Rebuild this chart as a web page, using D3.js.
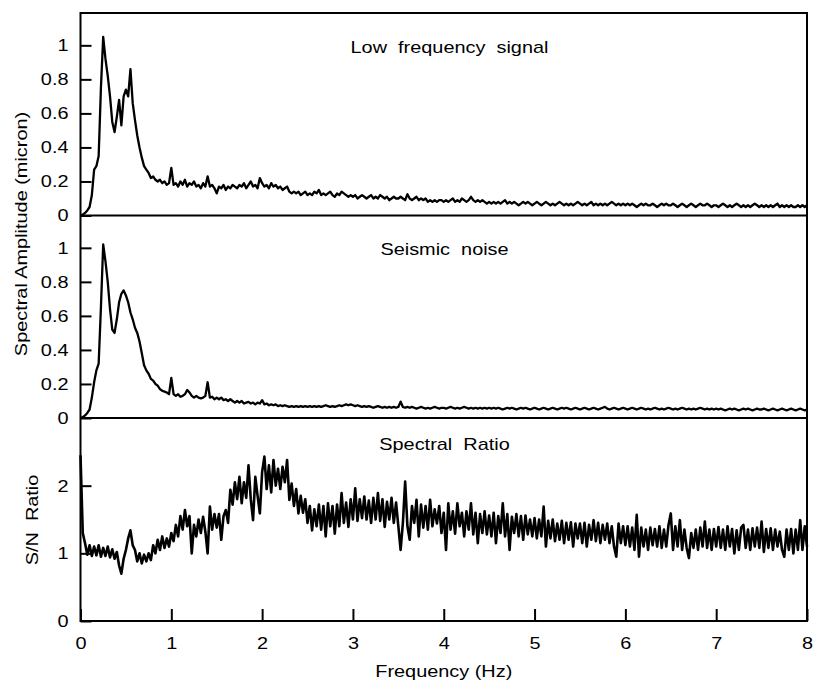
<!DOCTYPE html>
<html><head><meta charset="utf-8">
<script src="https://cdn.jsdelivr.net/npm/d3@7"></script>
<style>
body{margin:0;background:#fff}
svg{display:block}
text{font-family:"Liberation Sans",Arial,Helvetica,sans-serif;font-size:17px;fill:#000}
</style>
</head><body>
<svg id="chart" width="813" height="682"></svg>
<script>
// ---- data ----
const freqStep = 0.025; // Hz between samples, 0..8 Hz
const signalAmp = [
0.00,0.005,0.015,0.03,0.05,0.12,0.27,0.29,0.35,0.75,1.05,0.92,0.82,0.70,0.55,0.49,0.58,0.68,0.53,0.70,
0.74,0.70,0.86,0.66,0.56,0.47,0.40,0.34,0.29,0.27,0.25,0.22,0.23,0.21,0.20,0.21,0.19,0.20,0.18,0.19,
0.28,0.18,0.19,0.17,0.20,0.18,0.21,0.17,0.19,0.18,0.20,0.17,0.18,0.16,0.19,0.17,0.23,0.17,0.18,0.16,
0.13,0.17,0.16,0.18,0.15,0.17,0.16,0.18,0.17,0.16,0.18,0.17,0.19,0.16,0.18,0.20,0.17,0.18,0.16,0.22,
0.19,0.17,0.18,0.16,0.19,0.17,0.18,0.16,0.17,0.15,0.16,0.17,0.14,0.13,0.14,0.13,0.14,0.12,0.13,0.14,
0.12,0.13,0.12,0.14,0.13,0.15,0.12,0.13,0.12,0.13,0.14,0.12,0.11,0.13,0.12,0.14,0.13,0.12,0.11,0.12,
0.11,0.12,0.10,0.11,0.12,0.11,0.10,0.11,0.12,0.10,0.11,0.10,0.12,0.11,0.10,0.11,0.09,0.10,0.11,0.10,
0.10,0.11,0.10,0.09,0.125,0.10,0.09,0.10,0.11,0.09,0.10,0.09,0.10,0.08,0.09,0.08,0.09,0.08,0.09,0.09,
0.08,0.09,0.08,0.09,0.10,0.08,0.09,0.08,0.10,0.09,0.08,0.09,0.11,0.09,0.08,0.09,0.08,0.09,0.08,0.07,
0.08,0.07,0.08,0.07,0.08,0.07,0.08,0.09,0.07,0.08,0.07,0.08,0.07,0.06,0.07,0.08,0.07,0.08,0.07,0.06,
0.07,0.08,0.07,0.06,0.07,0.08,0.07,0.06,0.07,0.06,0.07,0.08,0.07,0.06,0.07,0.06,0.07,0.06,0.07,0.08,
0.07,0.06,0.07,0.06,0.07,0.08,0.06,0.07,0.06,0.07,0.06,0.07,0.06,0.07,0.08,0.07,0.06,0.07,0.06,0.07,
0.06,0.07,0.06,0.07,0.06,0.05,0.06,0.07,0.06,0.07,0.06,0.06,0.07,0.06,0.05,0.06,0.07,0.06,0.07,0.06,
0.06,0.07,0.06,0.05,0.06,0.07,0.06,0.05,0.06,0.07,0.06,0.05,0.06,0.07,0.06,0.06,0.07,0.06,0.05,0.06,
0.06,0.05,0.06,0.07,0.06,0.05,0.06,0.05,0.06,0.07,0.06,0.05,0.06,0.05,0.06,0.05,0.06,0.07,0.06,0.05,
0.06,0.05,0.06,0.05,0.06,0.05,0.06,0.07,0.05,0.06,0.05,0.06,0.05,0.06,0.05,0.05,0.06,0.05,0.06,0.05,
0.06
];
const noiseAmp = [
0.00,0.005,0.015,0.03,0.05,0.12,0.21,0.28,0.32,0.65,1.02,0.92,0.80,0.64,0.52,0.50,0.58,0.68,0.73,0.75,
0.72,0.68,0.62,0.58,0.53,0.50,0.45,0.38,0.31,0.28,0.26,0.23,0.22,0.20,0.19,0.17,0.16,0.155,0.15,0.14,
0.235,0.14,0.13,0.14,0.125,0.13,0.14,0.165,0.15,0.13,0.12,0.13,0.12,0.115,0.12,0.13,0.21,0.12,0.125,0.11,
0.12,0.11,0.12,0.105,0.11,0.10,0.11,0.10,0.09,0.10,0.09,0.10,0.085,0.09,0.095,0.085,0.09,0.08,0.09,0.085,
0.105,0.08,0.085,0.075,0.08,0.075,0.08,0.07,0.075,0.07,0.075,0.07,0.065,0.07,0.065,0.07,0.065,0.07,0.065,0.07,
0.065,0.07,0.065,0.07,0.065,0.07,0.065,0.07,0.075,0.07,0.065,0.07,0.065,0.07,0.075,0.07,0.075,0.08,0.075,0.08,
0.075,0.07,0.075,0.07,0.065,0.07,0.065,0.07,0.065,0.06,0.065,0.07,0.065,0.06,0.065,0.06,0.065,0.06,0.065,0.06,
0.065,0.096,0.065,0.06,0.065,0.06,0.065,0.06,0.055,0.06,0.065,0.06,0.055,0.06,0.055,0.06,0.065,0.06,0.055,0.06,
0.06,0.055,0.06,0.065,0.06,0.055,0.06,0.055,0.06,0.065,0.06,0.055,0.06,0.055,0.06,0.055,0.06,0.055,0.06,0.055,
0.06,0.055,0.06,0.055,0.06,0.055,0.05,0.055,0.06,0.055,0.06,0.055,0.05,0.055,0.06,0.055,0.06,0.055,0.05,0.055,
0.06,0.055,0.05,0.055,0.06,0.055,0.05,0.055,0.06,0.055,0.05,0.055,0.06,0.055,0.06,0.055,0.05,0.055,0.06,0.055,
0.05,0.055,0.06,0.055,0.05,0.055,0.06,0.055,0.05,0.055,0.06,0.065,0.055,0.05,0.055,0.06,0.055,0.05,0.055,0.06,
0.055,0.05,0.055,0.06,0.055,0.05,0.055,0.06,0.055,0.05,0.055,0.05,0.055,0.06,0.055,0.05,0.055,0.05,0.055,0.06,
0.055,0.05,0.055,0.05,0.055,0.06,0.055,0.05,0.055,0.05,0.055,0.05,0.055,0.06,0.055,0.05,0.055,0.05,0.055,0.05,
0.055,0.05,0.055,0.05,0.045,0.05,0.055,0.05,0.055,0.05,0.045,0.05,0.055,0.05,0.055,0.05,0.045,0.05,0.055,0.05,
0.05,0.055,0.05,0.045,0.05,0.055,0.05,0.045,0.05,0.055,0.05,0.045,0.05,0.055,0.05,0.045,0.05,0.055,0.05,0.045,
0.05
];
const snRatio = [
2.45,1.30,1.15,0.98,1.12,0.96,1.10,0.97,1.12,0.95,1.08,0.96,1.10,0.94,1.06,0.92,1.02,0.82,0.70,0.92,
1.05,1.22,1.34,1.12,1.05,0.88,1.00,0.85,0.98,0.88,1.00,0.90,1.12,1.00,1.20,1.05,1.25,1.08,1.22,1.10,
1.30,1.18,1.42,1.25,1.55,1.35,1.64,1.40,1.55,1.00,1.42,1.25,1.50,1.30,1.54,1.32,1.00,1.69,1.35,1.58,
1.38,1.58,1.20,1.55,1.64,1.45,1.94,1.72,2.05,1.80,2.13,1.74,2.05,1.82,2.30,1.80,1.49,2.13,1.85,1.59,
2.20,2.43,1.95,2.30,1.90,2.38,2.00,2.25,1.95,2.28,2.05,2.38,1.79,2.03,1.70,1.95,1.59,1.85,1.60,1.80,
1.45,1.70,1.34,1.65,1.40,1.72,1.35,1.70,1.25,1.74,1.40,1.70,1.29,1.72,1.40,1.89,1.45,1.75,1.39,1.80,
1.50,1.96,1.48,1.80,1.52,1.84,1.50,1.78,1.45,1.82,1.50,1.89,1.48,1.80,1.39,1.76,1.50,1.82,1.45,1.75,
1.40,1.05,1.45,2.06,1.40,1.20,1.70,1.45,1.79,1.25,1.72,1.38,1.70,1.35,1.79,1.40,1.65,1.44,1.70,1.30,
1.60,1.05,1.74,1.35,1.62,1.29,1.74,1.40,1.60,1.25,1.62,1.35,1.74,1.28,1.60,1.15,1.58,1.30,1.62,1.28,
1.56,1.25,1.60,1.15,1.55,1.30,1.74,1.25,1.58,1.05,1.54,1.30,1.58,1.25,1.55,1.20,1.56,1.28,1.50,1.25,
1.52,1.22,1.50,1.25,1.69,1.10,1.48,1.22,1.50,1.18,1.44,1.20,1.48,1.15,1.45,1.20,1.46,1.10,1.44,1.22,
1.44,1.15,1.45,1.10,1.42,1.20,1.49,1.18,1.45,1.15,1.42,1.20,1.44,1.15,1.40,1.10,0.95,1.44,1.15,1.40,
1.12,1.40,1.10,1.38,1.05,1.57,0.95,1.38,1.10,1.35,1.05,1.38,1.12,1.36,1.10,1.40,1.08,1.35,1.10,1.42,
1.59,1.05,1.40,1.10,1.49,1.05,1.35,1.08,0.93,1.30,1.08,1.35,1.05,1.38,1.10,1.47,1.08,1.35,1.05,1.36,
1.10,1.39,1.08,1.35,1.05,1.40,1.10,1.36,1.00,1.34,1.05,1.38,1.42,1.08,1.35,1.05,1.37,1.10,1.38,1.08,
1.47,1.02,1.36,1.08,1.37,1.05,1.35,1.10,1.32,1.05,0.95,1.35,1.05,1.36,1.00,1.35,1.05,1.49,1.05,1.40,
1.10
];
const frequencies = signalAmp.map((_, i) => +(i * freqStep).toFixed(3));
const freqTicks = [0, 1, 2, 3, 4, 5, 6, 7, 8];
const freqTickLabels = ["0", "1", "2", "3", "4", "5", "6", "7", "8"];
const ampTicks = [0, 0.2, 0.4, 0.6, 0.8, 1];
const ampTickLabels = ["0", "0.2", "0.4", "0.6", "0.8", "1"];
const ratioTicks = [0, 1, 2];
const ratioTickLabels = ["0", "1", "2"];
const panelTitles = ["Low  frequency  signal", "Seismic  noise", "Spectral  Ratio"];
const xTitle = "Frequency (Hz)";
const yTitleAmp = "Spectral Amplitude (micron)";
const yTitleRatio = "S/N  Ratio";

// ---- layout ----
const SX = 1.17; // horizontal text stretch
const L = 80.5, R = 807;
const panels = [
  {vals: signalAmp, domain: [0, 1.19], ticks: ampTicks, labels: ampTickLabels, top: 13, bottom: 215.5, title: panelTitles[0], tx: 449.5, ty: 52.5, sw: 2.3},
  {vals: noiseAmp, domain: [0, 1.19], ticks: ampTicks, labels: ampTickLabels, top: 215.5, bottom: 418, title: panelTitles[1], tx: 444.5, ty: 255, sw: 2.3},
  {vals: snRatio, domain: [0, 3], ticks: ratioTicks, labels: ratioTickLabels, top: 418, bottom: 621, title: panelTitles[2], tx: 444.5, ty: 450, sw: 2.6}
];

const svg = d3.select("#chart");
const x = d3.scaleLinear().domain([0, 8]).range([L, R]);

panels.forEach(p => {
  const y = d3.scaleLinear().domain(p.domain).range([p.bottom, p.top]);
  const ax = svg.append("g")
    .attr("transform", `translate(${L},0)`)
    .call(d3.axisLeft(y).tickValues(p.ticks).tickFormat((d, i) => p.labels[i])
      .tickSizeInner(-11).tickSizeOuter(0).tickPadding(12));
  ax.select(".domain").remove();
  ax.selectAll(".tick line").attr("stroke", "#000").attr("stroke-width", 2);
  ax.selectAll(".tick text")
    .attr("x", -12 / SX)
    .attr("transform", `scale(${SX},1)`);
  ax.attr("font-size", null).attr("font-family", null);

  const line = d3.line()
    .x((d, i) => x(frequencies[i]))
    .y(d => y(d));
  svg.append("path")
    .datum(p.vals)
    .attr("d", line)
    .attr("fill", "none")
    .attr("stroke", "#000")
    .attr("stroke-width", p.sw)
    .attr("stroke-linejoin", "round");

  svg.append("text")
    .attr("transform", `translate(${p.tx},${p.ty}) scale(${SX},1)`)
    .attr("text-anchor", "middle")
    .style("white-space", "pre")
    .text(p.title);
});

// x axis on bottom panel
const xa = svg.append("g")
  .attr("transform", `translate(0,621)`)
  .call(d3.axisBottom(x).tickValues(freqTicks).tickFormat((d, i) => freqTickLabels[i])
    .tickSizeInner(-12).tickSizeOuter(0));
xa.select(".domain").remove();
xa.selectAll(".tick line").attr("stroke", "#000").attr("stroke-width", 2);
xa.selectAll(".tick text").attr("y", 28.5).attr("dy", null)
  .attr("transform", `scale(${SX},1)`);
xa.attr("font-size", null).attr("font-family", null);

// frame and panel separators
svg.append("rect")
  .attr("x", L).attr("y", 13).attr("width", R - L).attr("height", 621 - 13)
  .attr("fill", "none").attr("stroke", "#000").attr("stroke-width", 2);
[215.5, 418].forEach(yy => {
  svg.append("line").attr("x1", L).attr("x2", R).attr("y1", yy).attr("y2", yy)
    .attr("stroke", "#000").attr("stroke-width", 2);
});

// axis titles
svg.append("text")
  .attr("transform", `translate(443.75,677) scale(${SX},1)`)
  .attr("text-anchor", "middle").text(xTitle);
svg.append("text")
  .attr("transform", `translate(27,234) rotate(-90) scale(${SX},1)`)
  .attr("text-anchor", "middle").text(yTitleAmp);
svg.append("text")
  .attr("transform", `translate(38,520) rotate(-90) scale(${SX},1)`)
  .attr("text-anchor", "middle").style("white-space", "pre").text(yTitleRatio);
</script>
</body></html>
